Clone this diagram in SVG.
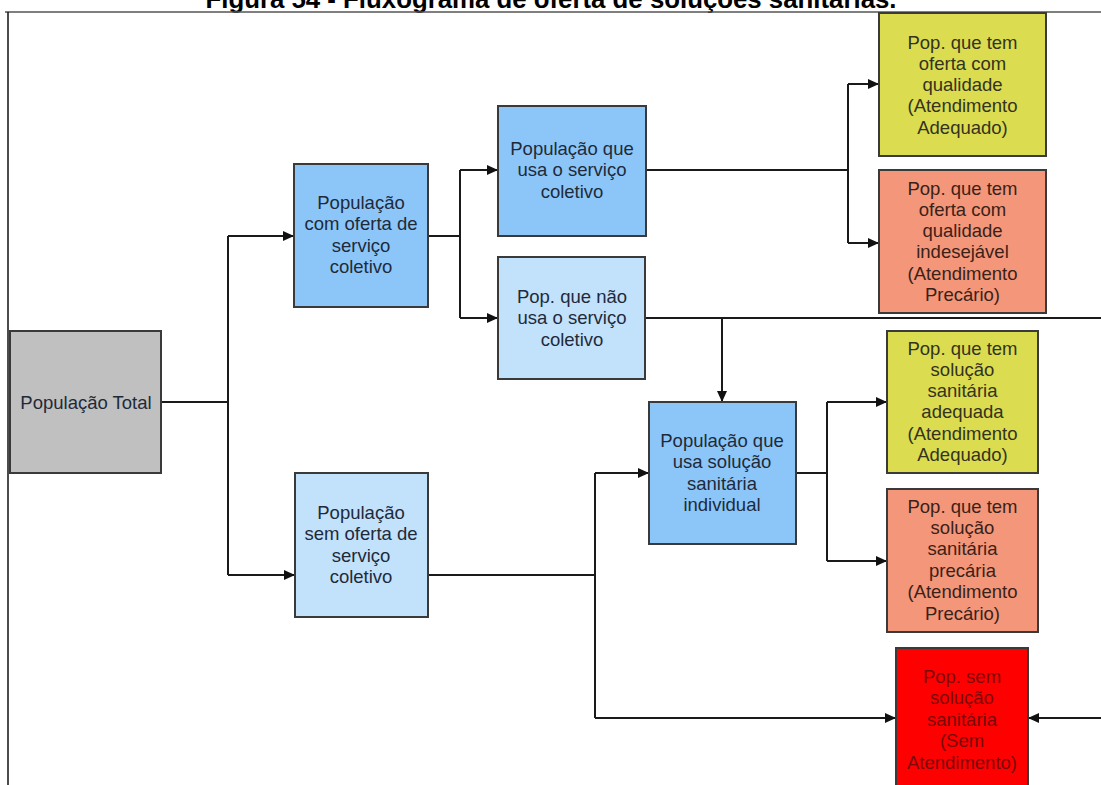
<svg xmlns="http://www.w3.org/2000/svg" width="1101" height="785" viewBox="0 0 1101 785">
<defs>
<marker id="arr" markerUnits="userSpaceOnUse" markerWidth="12" markerHeight="12" refX="11" refY="6" orient="auto">
<path d="M0,1 L11,6 L0,11 z" fill="#111"/>
</marker>
<style>
.box{stroke:#3a3a3a;stroke-width:2}
.t{font-family:"Liberation Sans",Arial,sans-serif;font-size:18.5px;text-anchor:middle;fill:#1e2a3a}
.ty{fill:#333320}
.to{fill:#3a2218}
.tr{fill:#7a0a0a}
.c{fill:none;stroke:#1a1a1a;stroke-width:2}
.ca{fill:none;stroke:#1a1a1a;stroke-width:2;marker-end:url(#arr)}
.title{font-family:"Liberation Sans",Arial,sans-serif;font-weight:bold;font-size:25.8px;text-anchor:middle;fill:#000}
</style>
</defs>
<rect width="1101" height="785" fill="#fff"/>
<text class="title" x="551" y="8">Figura 54 - Fluxograma de oferta de soluções sanitárias.</text>
<g id="frame">
<line x1="5" y1="12" x2="1101" y2="12" stroke="#555" stroke-width="1.5"/>
<line x1="8" y1="12" x2="8" y2="785" stroke="#111" stroke-width="1.5"/>
</g>
<g id="connectors">
<polyline class="c" points="161,402 228,402"/>
<line class="c" x1="228" y1="236" x2="228" y2="575"/>
<polyline class="ca" points="228,236 294,236"/>
<polyline class="ca" points="228,575 295,575"/>
<polyline class="c" points="428,236 460,236"/>
<line class="c" x1="460" y1="170" x2="460" y2="318"/>
<polyline class="ca" points="460,170 498,170"/>
<polyline class="ca" points="460,318 498,318"/>
<polyline class="c" points="646,170 848,170"/>
<line class="c" x1="848" y1="84" x2="848" y2="243"/>
<polyline class="ca" points="848,84 879,84"/>
<polyline class="ca" points="848,243 879,243"/>
<polyline class="c" points="646,318 1101,318"/>
<polyline class="ca" points="722,318 722,402"/>
<polyline class="c" points="428,575 595,575"/>
<line class="c" x1="595" y1="473" x2="595" y2="718"/>
<polyline class="ca" points="595,473 649,473"/>
<polyline class="ca" points="595,718 896,718"/>
<polyline class="c" points="796,473 827,473"/>
<line class="c" x1="827" y1="402" x2="827" y2="561"/>
<polyline class="ca" points="827,402 887,402"/>
<polyline class="ca" points="827,561 887,561"/>
<polyline class="ca" points="1101,718 1028,718"/>
</g>
<g id="n-total">
<rect class="box" x="10" y="331" width="151" height="142" fill="#c0c0c0"/>
<text class="t" x="86" y="408.5" fill="#222">População Total</text>
</g>
<g id="n-com-oferta">
<rect class="box" x="294" y="164" width="134" height="143" fill="#8cc6f8"/>
<text class="t" x="361"><tspan x="361" y="208.5">População</tspan><tspan x="361" y="230">com oferta de</tspan><tspan x="361" y="251.5">serviço</tspan><tspan x="361" y="273">coletivo</tspan></text>
</g>
<g id="n-sem-oferta">
<rect class="box" x="295" y="473" width="133" height="144" fill="#c2e1fb"/>
<text class="t" x="361"><tspan x="361" y="518.5">População</tspan><tspan x="361" y="540">sem oferta de</tspan><tspan x="361" y="561.5">serviço</tspan><tspan x="361" y="583">coletivo</tspan></text>
</g>
<g id="n-usa">
<rect class="box" x="498" y="106" width="148" height="130" fill="#8cc6f8"/>
<text class="t" x="572"><tspan x="572" y="154.5">População que</tspan><tspan x="572" y="176">usa o serviço</tspan><tspan x="572" y="197.5">coletivo</tspan></text>
</g>
<g id="n-nao-usa">
<rect class="box" x="498" y="257" width="147" height="122" fill="#c2e1fb"/>
<text class="t" x="572"><tspan x="572" y="302.5">Pop. que não</tspan><tspan x="572" y="324">usa o serviço</tspan><tspan x="572" y="345.5">coletivo</tspan></text>
</g>
<g id="n-individual">
<rect class="box" x="649" y="402" width="147" height="142" fill="#8cc6f8"/>
<text class="t" x="722"><tspan x="722" y="446.5">População que</tspan><tspan x="722" y="468">usa solução</tspan><tspan x="722" y="489.5">sanitária</tspan><tspan x="722" y="511">individual</tspan></text>
</g>
<g id="n-oferta-qualidade">
<rect class="box" x="879" y="13" width="167" height="143" fill="#dcdc50"/>
<text class="t ty" x="962.5"><tspan x="962.5" y="48.5">Pop. que tem</tspan><tspan x="962.5" y="69.8">oferta com</tspan><tspan x="962.5" y="91.1">qualidade</tspan><tspan x="962.5" y="112.4">(Atendimento</tspan><tspan x="962.5" y="133.7">Adequado)</tspan></text>
</g>
<g id="n-oferta-indesejavel">
<rect class="box" x="879" y="170" width="167" height="143" fill="#f4967a"/>
<text class="t to" x="962.5"><tspan x="962.5" y="194.5">Pop. que tem</tspan><tspan x="962.5" y="215.8">oferta com</tspan><tspan x="962.5" y="237.1">qualidade</tspan><tspan x="962.5" y="258.4">indesejável</tspan><tspan x="962.5" y="279.7">(Atendimento</tspan><tspan x="962.5" y="301">Precário)</tspan></text>
</g>
<g id="n-solucao-adequada">
<rect class="box" x="887" y="331" width="151" height="142" fill="#dcdc50"/>
<text class="t ty" x="962.5"><tspan x="962.5" y="354.5">Pop. que tem</tspan><tspan x="962.5" y="375.8">solução</tspan><tspan x="962.5" y="397.1">sanitária</tspan><tspan x="962.5" y="418.4">adequada</tspan><tspan x="962.5" y="439.7">(Atendimento</tspan><tspan x="962.5" y="461">Adequado)</tspan></text>
</g>
<g id="n-solucao-precaria">
<rect class="box" x="887" y="489" width="151" height="143" fill="#f4967a"/>
<text class="t to" x="962.5"><tspan x="962.5" y="512.5">Pop. que tem</tspan><tspan x="962.5" y="533.9">solução</tspan><tspan x="962.5" y="555.3">sanitária</tspan><tspan x="962.5" y="576.7">precária</tspan><tspan x="962.5" y="598.1">(Atendimento</tspan><tspan x="962.5" y="619.5">Precário)</tspan></text>
</g>
<g id="n-sem-solucao">
<rect class="box" x="896" y="648" width="132" height="145" fill="#fe0000" stroke="#8a1010"/>
<text class="t tr" x="962"><tspan x="962" y="682.5">Pop. sem</tspan><tspan x="962" y="704">solução</tspan><tspan x="962" y="725.5">sanitária</tspan><tspan x="962" y="747">(Sem</tspan><tspan x="962" y="768.5">Atendimento)</tspan></text>
</g>
</svg>
